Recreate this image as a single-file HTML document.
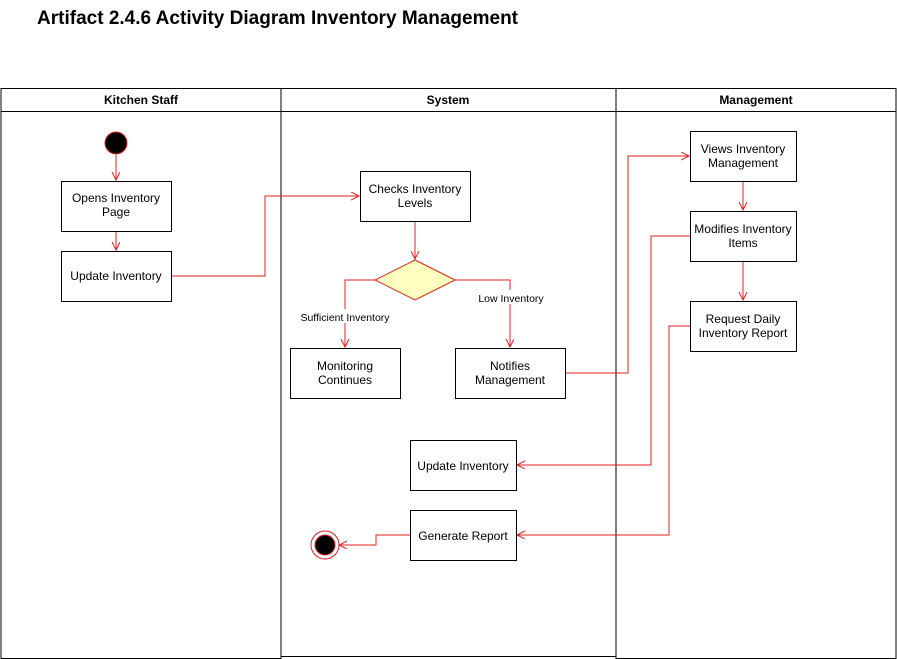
<!DOCTYPE html>
<html><head><meta charset="utf-8"><style>
body{margin:0;background:#fff;width:897px;height:659px;overflow:hidden}
svg{display:block}
text{font-family:"Liberation Sans",Arial,sans-serif;fill:#000}
.b{fill:#fff;stroke:#000;stroke-width:1}
.l{fill:none;stroke:#e02020;stroke-width:1}
.t{font-size:12px;text-anchor:middle}
.s{font-size:10.5px;text-anchor:middle}
.h{font-size:12px;font-weight:bold;text-anchor:middle}
</style></head><body>
<svg width="897" height="659" viewBox="0 0 897 659" xmlns="http://www.w3.org/2000/svg">
<defs><marker id="a" markerWidth="10" markerHeight="10" refX="8" refY="4" orient="auto" markerUnits="userSpaceOnUse"><path d="M0,0 L8,4 L0,8" fill="none" stroke="#e02020" stroke-width="1"/></marker></defs>
<text x="37" y="24" style="font-size:19px;font-weight:bold" textLength="481">Artifact 2.4.6 Activity Diagram Inventory Management</text>
<rect x="1" y="88.5" width="280" height="570" fill="none" stroke="#000"/>
<rect x="281" y="88.5" width="335" height="568" fill="none" stroke="#000"/>
<rect x="616" y="88.5" width="280" height="570" fill="none" stroke="#000"/>
<line x1="1" y1="111.5" x2="896" y2="111.5" stroke="#000"/>
<text x="141" y="104" class="h">Kitchen Staff</text>
<text x="448" y="104" class="h">System</text>
<text x="756" y="104" class="h">Management</text>
<circle cx="116" cy="143" r="11" fill="#000" stroke="#e02020"/>
<path class="l" marker-end="url(#a)" d="M116,155V180"/>
<path class="l" marker-end="url(#a)" d="M116,231V250"/>
<path class="l" marker-end="url(#a)" d="M171,276H265V196H359"/>
<path class="l" marker-end="url(#a)" d="M415,221V259"/>
<path class="l" marker-end="url(#a)" d="M375,280H345V347"/>
<path class="l" marker-end="url(#a)" d="M455,280H510V347"/>
<path class="l" marker-end="url(#a)" d="M565,373H628V156H689"/>
<path class="l" marker-end="url(#a)" d="M743,181V210"/>
<path class="l" marker-end="url(#a)" d="M690,236H651V465H517"/>
<path class="l" marker-end="url(#a)" d="M743,261V300"/>
<path class="l" marker-end="url(#a)" d="M690,326H669V535H517"/>
<path class="l" marker-end="url(#a)" d="M410,535H376V545H339"/>
<rect class="b" x="61.5" y="181.5" width="110" height="50"/>
<text class="t" x="116" y="202">Opens Inventory</text><text class="t" x="116" y="216">Page</text>
<rect class="b" x="61.5" y="251.5" width="110" height="50"/>
<text class="t" x="116" y="280">Update Inventory</text>
<rect class="b" x="360.5" y="171.5" width="110" height="50"/>
<text class="t" x="415" y="193">Checks Inventory</text><text class="t" x="415" y="207">Levels</text>
<polygon points="415,260 455,280 415,300 375,280" fill="#ffffc0" stroke="#e02020"/>
<rect x="340" y="309" width="12" height="14" fill="#fff"/>
<text class="s" x="345" y="321">Sufficient Inventory</text>
<rect x="504" y="290" width="12" height="14" fill="#fff"/>
<text class="s" x="511" y="302">Low Inventory</text>
<rect class="b" x="290.5" y="348.5" width="110" height="50"/>
<text class="t" x="345" y="370">Monitoring</text><text class="t" x="345" y="384">Continues</text>
<rect class="b" x="455.5" y="348.5" width="110" height="50"/>
<text class="t" x="510" y="370">Notifies</text><text class="t" x="510" y="384">Management</text>
<rect class="b" x="690.5" y="131.5" width="106" height="50"/>
<text class="t" x="743" y="153">Views Inventory</text><text class="t" x="743" y="167">Management</text>
<rect class="b" x="690.5" y="211.5" width="106" height="50"/>
<text class="t" x="743" y="233">Modifies Inventory</text><text class="t" x="743" y="247">Items</text>
<rect class="b" x="690.5" y="301.5" width="106" height="50"/>
<text class="t" x="743" y="323">Request Daily</text><text class="t" x="743" y="337">Inventory Report</text>
<rect class="b" x="410.5" y="440.5" width="106" height="50"/>
<text class="t" x="463" y="470">Update Inventory</text>
<rect class="b" x="410.5" y="510.5" width="106" height="50"/>
<text class="t" x="463" y="540">Generate Report</text>
<circle cx="325" cy="545" r="14" fill="#fff" stroke="#e02020"/>
<circle cx="325" cy="545" r="10" fill="#000" stroke="#e02020"/>
</svg>
</body></html>
